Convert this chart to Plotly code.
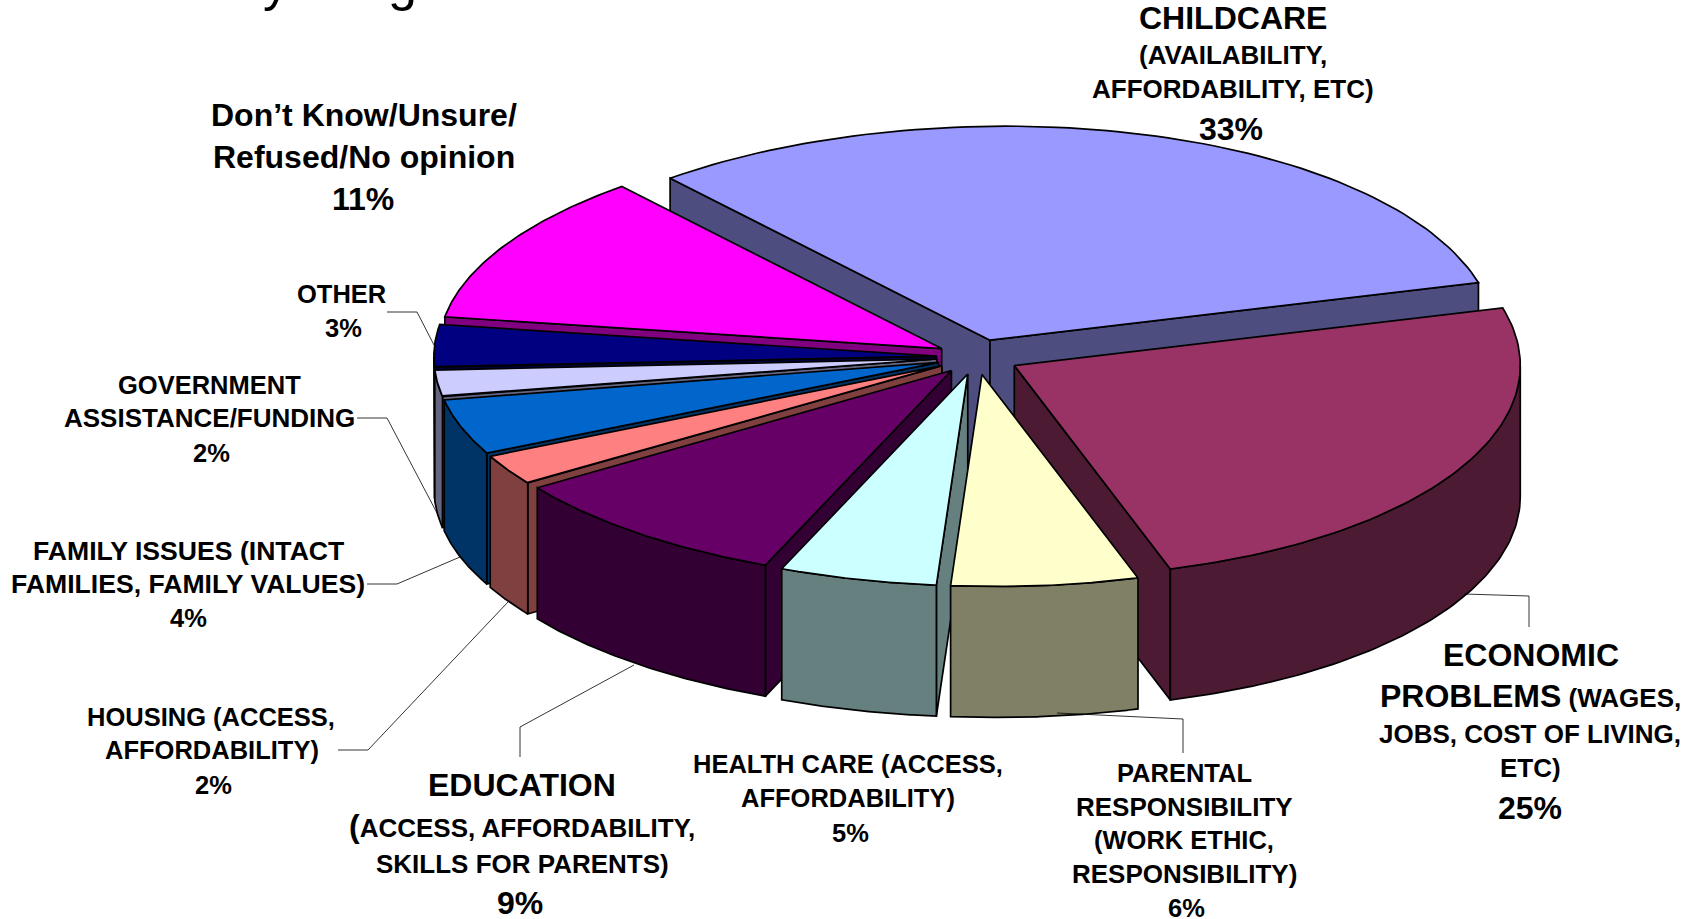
import numpy as np
import plotly.graph_objects as go

categories = ["Childcare", "Economic problems", "Parental responsibility", "Health care",
              "Education", "Housing", "Family issues", "Government assistance/funding",
              "Other", "Don't know/unsure/refused/no opinion"]
# Shares (labels are the printed percentages)
shares = [32.0, 24.8, 6.0, 5.0, 9.2, 2.3, 4.2, 2.0, 3.2, 11.3]
top_colors = ["#9999FF", "#993366", "#FFFFCC", "#CCFFFF", "#660066",
              "#FF8080", "#0066CC", "#CCCCFF", "#000080", "#FF00FF"]
wall_colors = ["#4D4D80", "#4D1A33", "#808066", "#668080", "#330033",
               "#804040", "#003366", "#666680", "#000040", "#800080"]
draw_order = [0, 9, 8, 7, 6, 5, 4, 1, 3, 2]

CX, CY, RX, RY, DEPTH, PULL = 978.0, 357.0, 506.0, 214.0, 131.0, 0.082
START_DEG = -40.8
SKEW_X, FLAT_FRONT, LEFT_TRIM = 15.0, 2.0, 3.3   # slight perspective of the rim
LINE = dict(color="black", width=1.7)
FONT = "Liberation Sans"
B, S, SN, SW = 32, 26, 25.5, 26.6

# line text, x centre, y centre, size
label_lines = [
    ("<b>CHILDCARE</b>", 1233, 18, B), ("<b>(AVAILABILITY,</b>", 1233, 55, S),
    ("<b>AFFORDABILITY, ETC)</b>", 1233, 89, S), ("<b>33%</b>", 1231, 129, B),
    ("<b>Don’t Know/Unsure/</b>", 364, 115, B), ("<b>Refused/No opinion</b>", 364, 157, B),
    ("<b>11%</b>", 363, 199, B),
    ("<b>OTHER</b>", 341, 294, SN), ("<b>3%</b>", 343, 328, SN),
    ("<b>GOVERNMENT</b>", 209, 385, SN), ("<b>ASSISTANCE/FUNDING</b>", 209, 418, S), ("<b>2%</b>", 211, 453, SN),
    ("<b>FAMILY ISSUES (INTACT</b>", 188, 551, SW), ("<b>FAMILIES, FAMILY VALUES)</b>", 188, 584, SW), ("<b>4%</b>", 188, 618, SN),
    ("<b>HOUSING (ACCESS,</b>", 211, 717, SN), ("<b>AFFORDABILITY)</b>", 212, 750, SN), ("<b>2%</b>", 213, 785, SN),
    ("<b>EDUCATION</b>", 522, 785, B),
    ("<b><span style='font-size:32px'>(</span>ACCESS, AFFORDABILITY,</b>", 522, 826, S),
    ("<b>SKILLS FOR PARENTS)</b>", 522, 864, S), ("<b>9%</b>", 520, 903, B),
    ("<b>HEALTH CARE (ACCESS,</b>", 848, 764, SN), ("<b>AFFORDABILITY)</b>", 848, 798, SN), ("<b>5%</b>", 850, 833, SN),
    ("<b>PARENTAL</b>", 1184, 773, SN), ("<b>RESPONSIBILITY</b>", 1184, 807, S), ("<b>(WORK ETHIC,</b>", 1184, 840, SN),
    ("<b>RESPONSIBILITY)</b>", 1184, 874, S), ("<b>6%</b>", 1186, 908, SN),
    ("<b>ECONOMIC</b>", 1531, 655, B),
    ("<b><span style='font-size:32px'>PROBLEMS</span> (WAGES,</b>", 1530, 696, S),
    ("<b>JOBS, COST OF LIVING,</b>", 1530, 734, S), ("<b>ETC)</b>", 1530, 768, S), ("<b>25%</b>", 1530, 808, B),
]
leaders = [
    ([387, 417, 434], [312, 312, 345]),
    ([357, 387, 437], [418, 418, 513]),
    ([367, 397, 460], [584, 584, 557]),
    ([338, 368, 508], [750, 750, 602]),
    ([520, 520, 634], [757, 727, 665]),
    ([1057, 1183, 1183], [713, 719, 753]),
    ([1464, 1529, 1529], [594, 596, 627]),
]
# only the descenders of the page heading survive at the top edge
heading_fragments = [("y", 276), ("g", 402)]

fig = go.Figure()


def poly(xs, ys, color):
    fig.add_trace(go.Scatter(x=list(xs) + [xs[0]], y=list(ys) + [ys[0]], mode="lines", fill="toself",
                             fillcolor=color, line=LINE, hoverinfo="skip", showlegend=False))


edges = START_DEG + np.concatenate([[0], np.cumsum(shares)]) / np.sum(shares) * 360


def rim(ax, ay, deg):
    t = np.radians(deg)
    c, s = np.cos(t), np.sin(t)
    x = ax + RX * s + SKEW_X * c ** 2 + LEFT_TRIM * np.maximum(-s, 0.0)
    y = ay - RY * c + FLAT_FRONT * np.minimum(c, 0.0)
    return x, y


for i in draw_order:
    a0, a1 = edges[i], edges[i + 1]
    mid = np.radians((a0 + a1) / 2)
    ax = CX + PULL * RX * np.sin(mid)
    ay = CY - PULL * RY * np.cos(mid)
    deg = np.linspace(a0, a1, 80)
    rx, ry = rim(ax, ay, deg)
    wall = wall_colors[i]
    # radial faces that turn towards the viewer
    if np.sin(np.radians(a0)) < 0:
        poly([ax, rx[0], rx[0], ax], [ay, ry[0], ry[0] + DEPTH, ay + DEPTH], wall)
    if np.sin(np.radians(a1)) > 0:
        poly([ax, rx[-1], rx[-1], ax], [ay, ry[-1], ry[-1] + DEPTH, ay + DEPTH], wall)
    # outer curved face: only the part that faces the viewer
    lo, hi = max(a0, 90.0), min(a1, 270.0)
    if hi > lo:
        fx, fy = rim(ax, ay, np.linspace(lo, hi, 80))
        poly(np.r_[fx, fx[::-1]], np.r_[fy, fy[::-1] + DEPTH], wall)
    # top
    poly(np.r_[ax, rx], np.r_[ay, ry], top_colors[i])

for lx, ly in leaders:
    fig.add_trace(go.Scatter(x=lx, y=ly, mode="lines", line=dict(color="black", width=0.8),
                             hoverinfo="skip", showlegend=False))

for text, x, y, size in label_lines:
    fig.add_annotation(x=x, y=y, xref="x", yref="y", text=text, showarrow=False,
                       xanchor="center", yanchor="middle",
                       font=dict(family=FONT, size=size, color="black"))

for ch, x in heading_fragments:
    fig.add_annotation(x=x / 1700, y=1, xref="paper", yref="paper", text=ch, showarrow=False,
                       xanchor="center", yanchor="bottom", yshift=-13,
                       font=dict(family=FONT, size=52, color="black"))

fig.update_layout(
    width=1700, height=919, margin=dict(l=0, r=0, t=0, b=0),
    paper_bgcolor="white", plot_bgcolor="white", showlegend=False,
    xaxis=dict(range=[0, 1700], visible=False, fixedrange=True),
    yaxis=dict(range=[919, 0], visible=False, fixedrange=True),
)
fig.write_html("out.html", config=dict(displayModeBar=False),
               post_script="document.body.style.margin='0';document.body.style.overflow='hidden';")
